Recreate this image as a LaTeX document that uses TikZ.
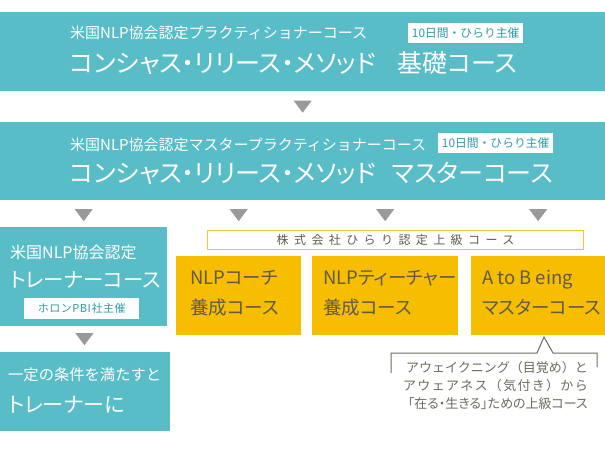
\documentclass[tikz,border=0pt]{standalone}
\usepackage{fontspec}
\setmainfont{Noto Sans CJK JP}
\newfontfamily\jpp{Noto Sans CJK JP}[RawFeature=+palt]
\usetikzlibrary{calc}

\definecolor{hiraTeal}{HTML}{58BDC6}
\definecolor{hiraYellow}{HTML}{F7BD00}
\definecolor{hiraLine}{HTML}{F3C43C}
\definecolor{hiraGray}{HTML}{9A9A9A}
\definecolor{hiraText}{HTML}{5E5A4C}
\definecolor{hiraTag}{HTML}{2F9AA5}
\definecolor{hiraNote}{HTML}{6E6A5E}

\begin{document}
\begin{tikzpicture}[x=1pt, y=-1pt,
    tealbox/.style={fill=hiraTeal, inner sep=0pt, anchor=north west},
    yellowbox/.style={fill=hiraYellow, inner sep=0pt, anchor=north west, minimum height=79},
    tagbox/.style={fill=white, text=hiraTag, inner sep=0pt, anchor=north west,
        font=\fontsize{11.8}{12}\selectfont},
    headsub/.style={anchor=west, inner sep=0pt, text=white, font=\fontsize{15}{18}\selectfont},
    headmain/.style={anchor=west, inner sep=0pt, text=white, font=\jpp\fontsize{25}{28}\selectfont},
    coursetext/.style={anchor=west, inner sep=0pt, text=hiraText, align=left,
        font=\jpp\fontsize{18.5}{30}\selectfont},
    downtri/.pic={\fill[hiraGray] (-9,-6) -- (9,-6) -- (0,6) -- cycle;}]

    \useasboundingbox (0,0) rectangle (605,452);

    % 基礎コース
    \node[tealbox, minimum width=605, minimum height=79] (basic) at (0,12) {};
    \node[headsub] (basicSub) at (70,33) {米国NLP協会認定プラクティショナーコース};
    \node[tagbox, minimum width=115, minimum height=20] (basicTag) at (408,23) {10日間・ひらり主催};
    \node[headmain] (basicMain) at (70,63) {コンシャス・リリース・メソッド\hspace{22pt}基礎コース};

    % マスターコース
    \node[tealbox, minimum width=605, minimum height=78] (master) at (0,122) {};
    \node[headsub] (masterSub) at (70,145) {米国NLP協会認定マスタープラクティショナーコース};
    \node[tagbox, minimum width=115, minimum height=20] (masterTag) at (438,133) {10日間・ひらり主催};
    \node[headmain] (masterMain) at (70,173) {コンシャス・リリース・メソッド\hspace{16pt}マスターコース};

    % トレーナーコース
    \node[tealbox, minimum width=167, minimum height=99] (trainer) at (0,227) {};
    \node[headsub, font=\fontsize{16}{18}\selectfont] (trainerSub) at (10,252) {米国NLP協会認定};
    \node[headsub, font=\jpp\fontsize{20.5}{24}\selectfont] (trainerMain) at (10,280) {トレーナーコース};
    \node[tagbox, minimum width=115, minimum height=21, font=\fontsize{11}{12}\selectfont\addfontfeature{LetterSpace=5}]
        (trainerTag) at (24,298) {ホロンPBI社主催};

    % トレーナーに
    \node[tealbox, minimum width=170, minimum height=79] (goal) at (0,352) {};
    \node[headsub, font=\fontsize{15.3}{18}\selectfont] (goalSub) at (8,375) {一定の条件を満たすと};
    \node[headsub, font=\jpp\fontsize{21}{24}\selectfont] (goalMain) at (8,405) {トレーナーに};

    % 上級コース
    \node[draw=hiraLine, line width=1pt, anchor=north west, inner sep=0pt, minimum width=376, minimum height=19,
        text=hiraText, font=\fontsize{12}{12}\selectfont\addfontfeature{LetterSpace=45}] (upper) at (207,230) {株式会社ひらり認定上級コース};
    \node[yellowbox, minimum width=125] (coach) at (176,256) {};
    \node[yellowbox, minimum width=146] (teacher) at (312,256) {};
    \node[yellowbox, minimum width=134] (being) at (471,256) {};
    \node[coursetext] (coachText) at (190,293) {NLPコーチ\\養成コース};
    \node[coursetext] (teacherText) at (323,293) {NLPティーチャー\\養成コース};
    \node[coursetext] (beingText) at (482,293) {A to B eing\\マスターコース};

    % 三角
    \pic at ($(basic.south)!0.5!(master.north)$) {downtri};
    \foreach \b in {trainer, coach, teacher, being}
        \pic at ($(master.south -| \b.north)!0.5!(upper.north -| \b.north)$) {downtri};
    \pic at ($(trainer.south)!0.5!(goal.north)$) {downtri};

    % 説明
    \draw[hiraNote, line width=1pt] (391,373) -- (391,353) -- (537,353) -- (544,337) -- (553,353) -- (597,353) -- (597,367);
    \node[anchor=north east, inner sep=0pt, text=hiraNote, align=right, font=\fontsize{13}{18}\selectfont]
        (beingNote) at (588,361) {アウェイクニング（目覚め）と\\
        {\addfontfeature{LetterSpace=10}アウェアネス（気付き）から}\\
        {\jpp「在る・生きる」ための上級コース}};

\end{tikzpicture}
\end{document}
